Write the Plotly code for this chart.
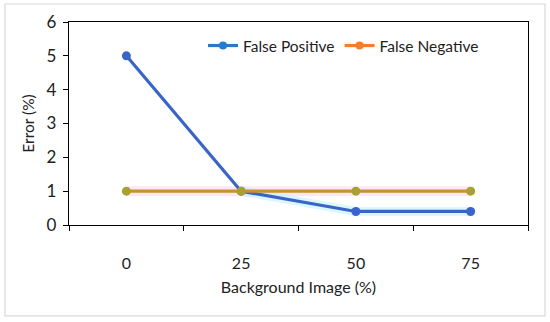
import plotly.graph_objects as go

categories = ["0", "25", "50", "75"]
false_positive = [5, 1, 0.4, 0.4]
false_negative = [1, 1, 1, 1]
y_ticks = [0, 1, 2, 3, 4, 5, 6]

FONT = "Lato, 'Noto Sans', sans-serif"
fig = go.Figure()

# faint halos seen in the reference
fig.add_trace(go.Scatter(x=categories, y=false_negative, mode="lines",
                         line=dict(color="rgba(255,200,240,0.45)", width=10),
                         showlegend=False, hoverinfo="skip"))
fig.add_trace(go.Scatter(x=categories[1:], y=false_positive[1:], mode="lines",
                         line=dict(color="rgba(170,240,255,0.45)", width=9),
                         showlegend=False, hoverinfo="skip"))

fig.add_trace(go.Scatter(x=categories, y=false_positive, mode="lines+markers",
                         line=dict(color="#3A64C6", width=3.2),
                         marker=dict(color="#3A64C6", size=9),
                         showlegend=False))
fig.add_trace(go.Scatter(x=categories, y=false_negative, mode="lines+markers",
                         line=dict(color="#C8922E", width=3.2),
                         marker=dict(color="#A8A030", size=9),
                         showlegend=False))

# legend entries
fig.add_trace(go.Scatter(x=[None], y=[None], mode="lines+markers", name="False Positive",
                         line=dict(color="#2E76C6", width=3.2), marker=dict(size=8)))
fig.add_trace(go.Scatter(x=[None], y=[None], mode="lines+markers", name="False Negative",
                         line=dict(color="#F47E2E", width=3.2), marker=dict(size=8)))

fig.update_layout(
    width=550, height=322,
    margin=dict(l=69, r=22, t=22, b=97),
    paper_bgcolor="white", plot_bgcolor="white",
    font=dict(family=FONT, size=15, color="#222"),
    legend=dict(orientation="h", x=0.292, y=0.882, xanchor="left", yanchor="middle",
                font=dict(size=15.5), bgcolor="rgba(0,0,0,0)", itemwidth=30),
    xaxis=dict(type="category", categoryorder="array", categoryarray=categories,
               range=[-0.5, 3.5], tickson="boundaries", ticks="outside", ticklen=5,
               tickcolor="black", showline=True, linecolor="black", linewidth=1.3,
               mirror=True, showgrid=False, zeroline=False, automargin=False,
               ticklabelstandoff=24,
               title=dict(text="Background Image (%)", font=dict(size=16), standoff=10),
               tickfont=dict(size=16)),
    yaxis=dict(range=[0, 6], tickvals=y_ticks, ticks="outside", ticklen=5,
               tickcolor="black", showline=True, linecolor="black", linewidth=1.3,
               mirror=True, showgrid=False, zeroline=False, automargin=False,
               ticklabelstandoff=3,
               title=dict(text="Error (%)", font=dict(size=15.5), standoff=8),
               tickfont=dict(size=17)),
    shapes=[dict(type="rect", xref="paper", yref="paper",
                 x0=-0.1394, x1=1.037, y0=-0.448, y1=1.0887,
                 line=dict(color="#D9D9D9", width=1.2), fillcolor="rgba(0,0,0,0)",
                 layer="below")],
)

fig.write_html("out.html", config={"displayModeBar": False},
               post_script="document.body.style.margin='0';")
